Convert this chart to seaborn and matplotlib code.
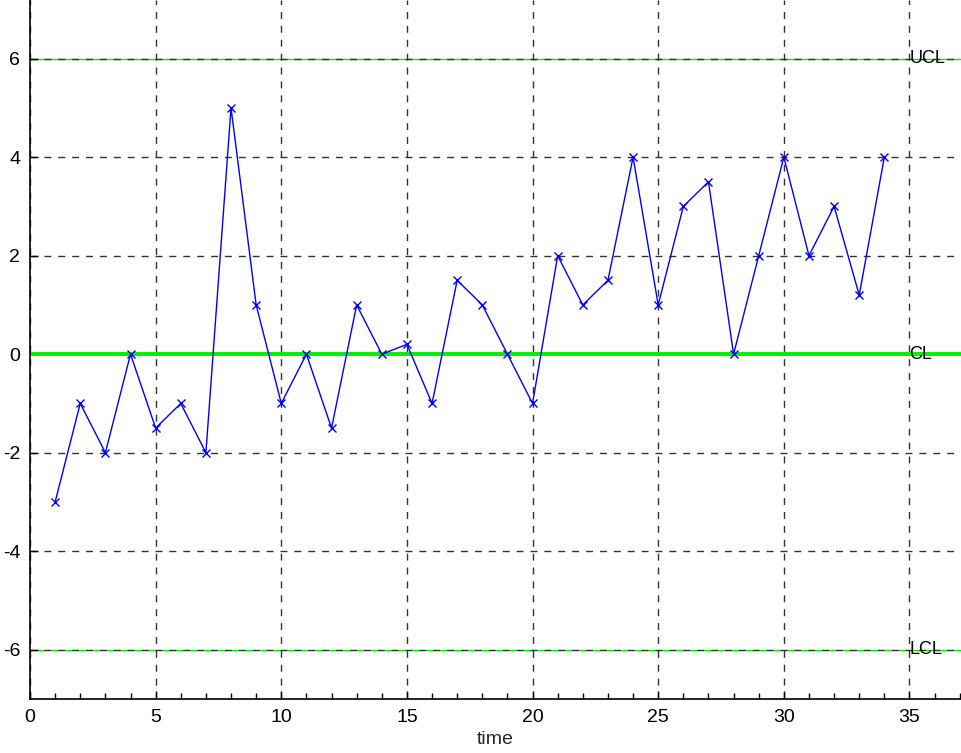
import matplotlib
matplotlib.use("Agg")
import matplotlib.pyplot as plt
from matplotlib.ticker import MultipleLocator
import seaborn as sns
import pandas as pd

# Control chart data
time = list(range(1, 35))
values = [-3, -1, -2, 0, -1.5, -1, -2, 5, 1, -1, 0, -1.5, 1, 0, 0.2, -1, 1.5, 1,
          0, -1, 2, 1, 1.5, 4, 1, 3, 3.5, 0, 2, 4, 2, 3, 1.2, 4]
limit_names = ["UCL", "CL", "LCL"]
limit_values = [6, 0, -6]
limit_widths = [1.0, 2.8, 0.8]

sns.set_theme(style="white")
plt.rcParams["font.family"] = ["Liberation Sans", "DejaVu Sans"]
plt.rcParams["axes.unicode_minus"] = False

fig = plt.figure(figsize=(9.61, 7.53), dpi=100)
ax = fig.add_axes([30 / 961, 54 / 753, 931 / 961, 699 / 753])

df = pd.DataFrame({"time": time, "value": values})

# Grid sits over the thin limits and under the centre line
ax.grid(True, which="major", color="#333333", linestyle=(0, (5, 5)), lw=1)
ax.set_axisbelow(True)

# Control limits
for name, val, lw in zip(limit_names, limit_values, limit_widths):
    ax.axhline(val, color="#00ee00", lw=lw, zorder=0.4 if val else 2.5)
    ax.text(35, val, name, ha="left", va="center", fontsize=13, color="black", zorder=5)

sns.lineplot(data=df, x="time", y="value", ax=ax, color="blue", lw=1,
             marker="x", markersize=6, markeredgecolor="blue", markeredgewidth=1,
             zorder=3)

ax.set_xlim(0, 37.05)
ax.set_ylim(-7, 7.19)
ax.xaxis.set_major_locator(MultipleLocator(5))
ax.xaxis.set_minor_locator(MultipleLocator(1))
ax.yaxis.set_major_locator(MultipleLocator(2))

for side in ["top", "right"]:
    ax.spines[side].set_visible(False)
for side in ["left", "bottom"]:
    ax.spines[side].set_color("black")
    ax.spines[side].set_linewidth(1.2)

ax.tick_params(axis="both", which="major", direction="in", length=6, width=1,
               colors="black", labelsize=14, bottom=True, left=True, pad=7)
ax.tick_params(axis="x", which="minor", direction="in", length=4, width=1,
               colors="black", bottom=True)

ax.set_xlabel("time", fontsize=14, labelpad=4)
ax.set_ylabel("")

fig.savefig("out.png", dpi=100)
